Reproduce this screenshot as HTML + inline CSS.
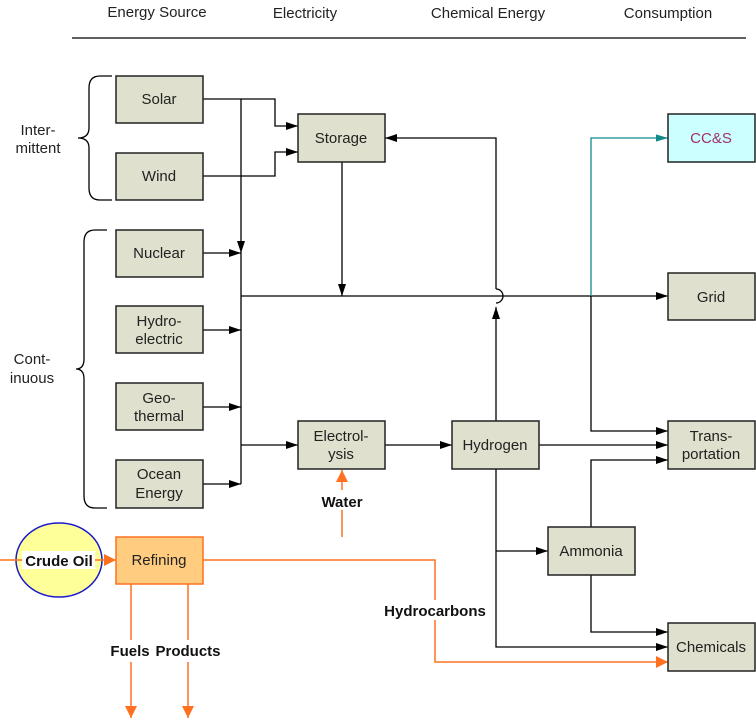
<!DOCTYPE html>
<html><head><style>body{margin:0;background:#fff}svg{display:block}text{font-family:"Liberation Sans",sans-serif;font-size:15px}</style></head><body>
<svg width="756" height="720" viewBox="0 0 756 720">
<defs>
<marker id="a" viewBox="0 0 10 10" refX="10" refY="5" markerWidth="12" markerHeight="10" orient="auto" markerUnits="userSpaceOnUse" preserveAspectRatio="none"><path d="M0,1 L10,5 L0,9z" fill="#000"/></marker>
<marker id="t" viewBox="0 0 10 10" refX="10" refY="5" markerWidth="12" markerHeight="9" orient="auto" markerUnits="userSpaceOnUse" preserveAspectRatio="none"><path d="M0,1 L10,5 L0,9z" fill="#138a8a"/></marker>
<marker id="o" viewBox="0 0 10 10" refX="10" refY="5" markerWidth="12" markerHeight="12" orient="auto" markerUnits="userSpaceOnUse" preserveAspectRatio="none"><path d="M0,0 L10,5 L0,10z" fill="#FF7020"/></marker>
</defs>
<g text-anchor="middle" fill="#222">
<text x="157" y="17">Energy Source</text><text x="305" y="18">Electricity</text><text x="488" y="18">Chemical Energy</text><text x="668" y="18">Consumption</text>
</g>
<line x1="72" y1="38" x2="746" y2="38" stroke="#000" stroke-width="1.3"/>
<g fill="none" stroke="#000" stroke-width="1.3">
<path d="M112,76 H100 Q89,76 89,88 V128 Q89,138 78,138 Q89,138 89,148 V188 Q89,200 100,200 H112"/>
<path d="M107,230 H95 Q84,230 84,242 V359 Q84,369 76,369 Q84,369 84,379 V496 Q84,508 95,508 H107"/>
</g>
<g text-anchor="middle" fill="#222"><text x="38" y="135">Inter-</text><text x="38" y="153">mittent</text><text x="32" y="364">Cont-</text><text x="32" y="383">inuous</text></g>
<g fill="none" stroke="#000" stroke-width="1.3">
<path d="M203,99 H275 V126 H298" marker-end="url(#a)"/>
<path d="M203,176 H275 V152 H298" marker-end="url(#a)"/>
<path d="M241,99 V253" marker-end="url(#a)"/>
<path d="M241,253 V484"/>
<path d="M203,253 H241" marker-end="url(#a)"/>
<path d="M203,330 H241" marker-end="url(#a)"/>
<path d="M203,407 H241" marker-end="url(#a)"/>
<path d="M203,484 H241" marker-end="url(#a)"/>
<path d="M241,296 H668" marker-end="url(#a)"/>
<path d="M342,162 V296" marker-end="url(#a)"/>
<path d="M496,421 V307" marker-end="url(#a)"/>
<path d="M496,289 A7,7 0 0 1 496,303"/>
<path d="M496,289 V138 H385" marker-end="url(#a)"/>
<path d="M241,445 H298" marker-end="url(#a)"/>
<path d="M385,445 H452" marker-end="url(#a)"/>
<path d="M539,445 H668" marker-end="url(#a)"/>
<path d="M591,296 V431 H668" marker-end="url(#a)"/>
<path d="M591,527 V460 H668" marker-end="url(#a)"/>
<path d="M496,469 V647 H668" marker-end="url(#a)"/>
<path d="M496,551 H548" marker-end="url(#a)"/>
<path d="M591,575 V632 H668" marker-end="url(#a)"/>
</g>
<path d="M591,296 V138 H668" fill="none" stroke="#138a8a" stroke-width="1.3" marker-end="url(#t)"/>
<g fill="none" stroke="#FF7020" stroke-width="1.5">
<path d="M203,560 H435 V662 H668" marker-end="url(#o)"/>
<path d="M342,537 V470" marker-end="url(#o)"/>
<path d="M131,584 V718" marker-end="url(#o)"/>
<path d="M188,584 V718" marker-end="url(#o)"/>
</g>
<ellipse cx="59" cy="560" rx="43" ry="37" fill="#FFFF99" stroke="#1a1acc" stroke-width="1.5"/>
<path d="M0,560 H116" stroke="#FF7020" stroke-width="1.5" marker-end="url(#o)"/>
<rect x="22" y="551" width="73" height="18" fill="#fff"/>
<g font-weight="bold" text-anchor="middle" fill="#111">
<text x="59" y="566">Crude Oil</text>
<rect x="316" y="490" width="52" height="20" fill="#fff"/><text x="342" y="507">Water</text>
<rect x="378" y="600" width="114" height="20" fill="#fff"/><text x="435" y="616">Hydrocarbons</text>
<rect x="105" y="640" width="122" height="22" fill="#fff"/><text x="130" y="656">Fuels</text><text x="188" y="656">Products</text>
</g>
<g fill="#DFE0CD" stroke="#222" stroke-width="1.5">
<rect x="116" y="76" width="87" height="47"/><rect x="116" y="153" width="87" height="47"/>
<rect x="116" y="230" width="87" height="47"/><rect x="116" y="306" width="87" height="47"/>
<rect x="116" y="383" width="87" height="47"/><rect x="116" y="460" width="87" height="48"/>
<rect x="298" y="114" width="87" height="48"/><rect x="298" y="421" width="87" height="48"/>
<rect x="452" y="421" width="87" height="48"/><rect x="548" y="527" width="87" height="48"/>
<rect x="668" y="273" width="87" height="47"/><rect x="668" y="421" width="87" height="48"/>
<rect x="668" y="623" width="87" height="48"/>
</g>
<rect x="668" y="114" width="87" height="48" fill="#CCFFFF" stroke="#222" stroke-width="1.5"/>
<rect x="116" y="537" width="87" height="47" fill="#FFCC80" stroke="#FF7020" stroke-width="1.5"/>
<g text-anchor="middle" fill="#222">
<text x="159" y="104">Solar</text><text x="159" y="181">Wind</text><text x="159" y="258">Nuclear</text>
<text x="159" y="326">Hydro-</text><text x="159" y="344">electric</text>
<text x="159" y="403">Geo-</text><text x="159" y="421">thermal</text>
<text x="159" y="479">Ocean</text><text x="159" y="498">Energy</text>
<text x="159" y="565">Refining</text>
<text x="341" y="143">Storage</text>
<text x="341" y="441">Electrol-</text><text x="341" y="459">ysis</text>
<text x="495" y="450">Hydrogen</text><text x="591" y="556">Ammonia</text>
<text x="711" y="143" fill="#A0306A">CC&amp;S</text>
<text x="711" y="302">Grid</text>
<text x="711" y="441">Trans-</text><text x="711" y="459">portation</text>
<text x="711" y="652">Chemicals</text>
</g>
</svg>
</body></html>
